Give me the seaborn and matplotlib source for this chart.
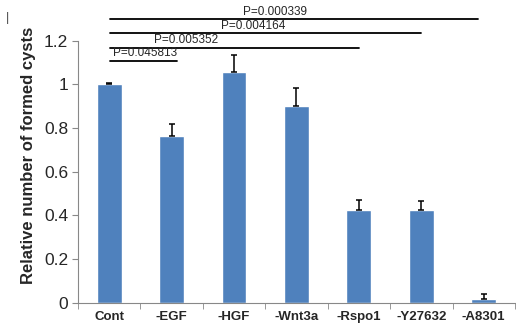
import seaborn as sns
import pandas as pd
import numpy as np
import matplotlib
matplotlib.use("Agg")
import matplotlib.pyplot as plt

## Donnees
conditions = ["Cont", "-EGF", "-HGF", "-Wnt3a", "-Rspo1", "-Y27632", "-A8301"]
relative = [1.0, 0.764, 1.057, 0.899, 0.427, 0.424, 0.017]
err_up = [0.004, 0.054, 0.075, 0.082, 0.043, 0.040, 0.023]

p_labels = ["P=0.045813", "P=0.005352", "P=0.004164", "P=0.000339"]
p_ends = [1.08, 4.0, 5.0, 5.9]
p_heights = [1.106, 1.167, 1.233, 1.297]
p_text_x = [0.06, 0.72, 1.79, 2.14]

df = pd.DataFrame({"cond": conditions, "val": relative})

sns.set_style("white")
plt.rcParams["font.family"] = ["Liberation Sans", "DejaVu Sans"]

fig = plt.figure(figsize=(5.16, 3.27), dpi=100)
ax = fig.add_axes([0.151, 0.074, 0.847, 0.902])

sns.barplot(data=df, x="cond", y="val", color="#4F81BD", saturation=1,
            width=0.4, ax=ax, errorbar=None)
ax.errorbar(np.arange(len(conditions)), relative,
            yerr=[np.zeros(len(err_up)), err_up], fmt="none",
            ecolor="black", elinewidth=1.1, capsize=2, capthick=1.1)

## Lignes de significativite
for lab, xe, h, xt in zip(p_labels, p_ends, p_heights, p_text_x):
    ax.plot([0.02, xe], [h, h], color="black", lw=1.3, clip_on=False)
    ax.text(xt, h + 0.008, lab, fontsize=8.5, ha="left", va="bottom")

ax.set_xlim(-0.5, 6.5)
ax.set_ylim(0, 1.35)
ax.set_yticks([0, 0.2, 0.4, 0.6, 0.8, 1.0, 1.2])
ax.set_yticklabels(["0", "0.2", "0.4", "0.6", "0.8", "1", "1.2"], fontsize=12.5)
ax.set_xticks(range(len(conditions)))
ax.set_xticklabels(conditions, fontsize=9.5, fontweight="bold")
ax.set_xticks(np.arange(-0.5, 7, 1), minor=True)
ax.tick_params(axis="x", which="major", length=0, pad=6)
ax.tick_params(axis="x", which="minor", length=4, color="#888888", direction="out", bottom=True)
ax.tick_params(axis="y", length=4, color="#888888", direction="out", left=True, pad=3)

ax.set_xlabel("")
ax.set_ylabel("Relative number of formed cysts", fontsize=12, fontweight="bold", labelpad=6)

for s in ["top", "right"]:
    ax.spines[s].set_visible(False)
ax.spines["left"].set_bounds(0, 1.2)
ax.spines["left"].set_color("#888888")
ax.spines["bottom"].set_color("#888888")

fig.text(0.012, 0.935, "|", fontsize=9, color="#444444")

plt.savefig("out.png", dpi=100)
